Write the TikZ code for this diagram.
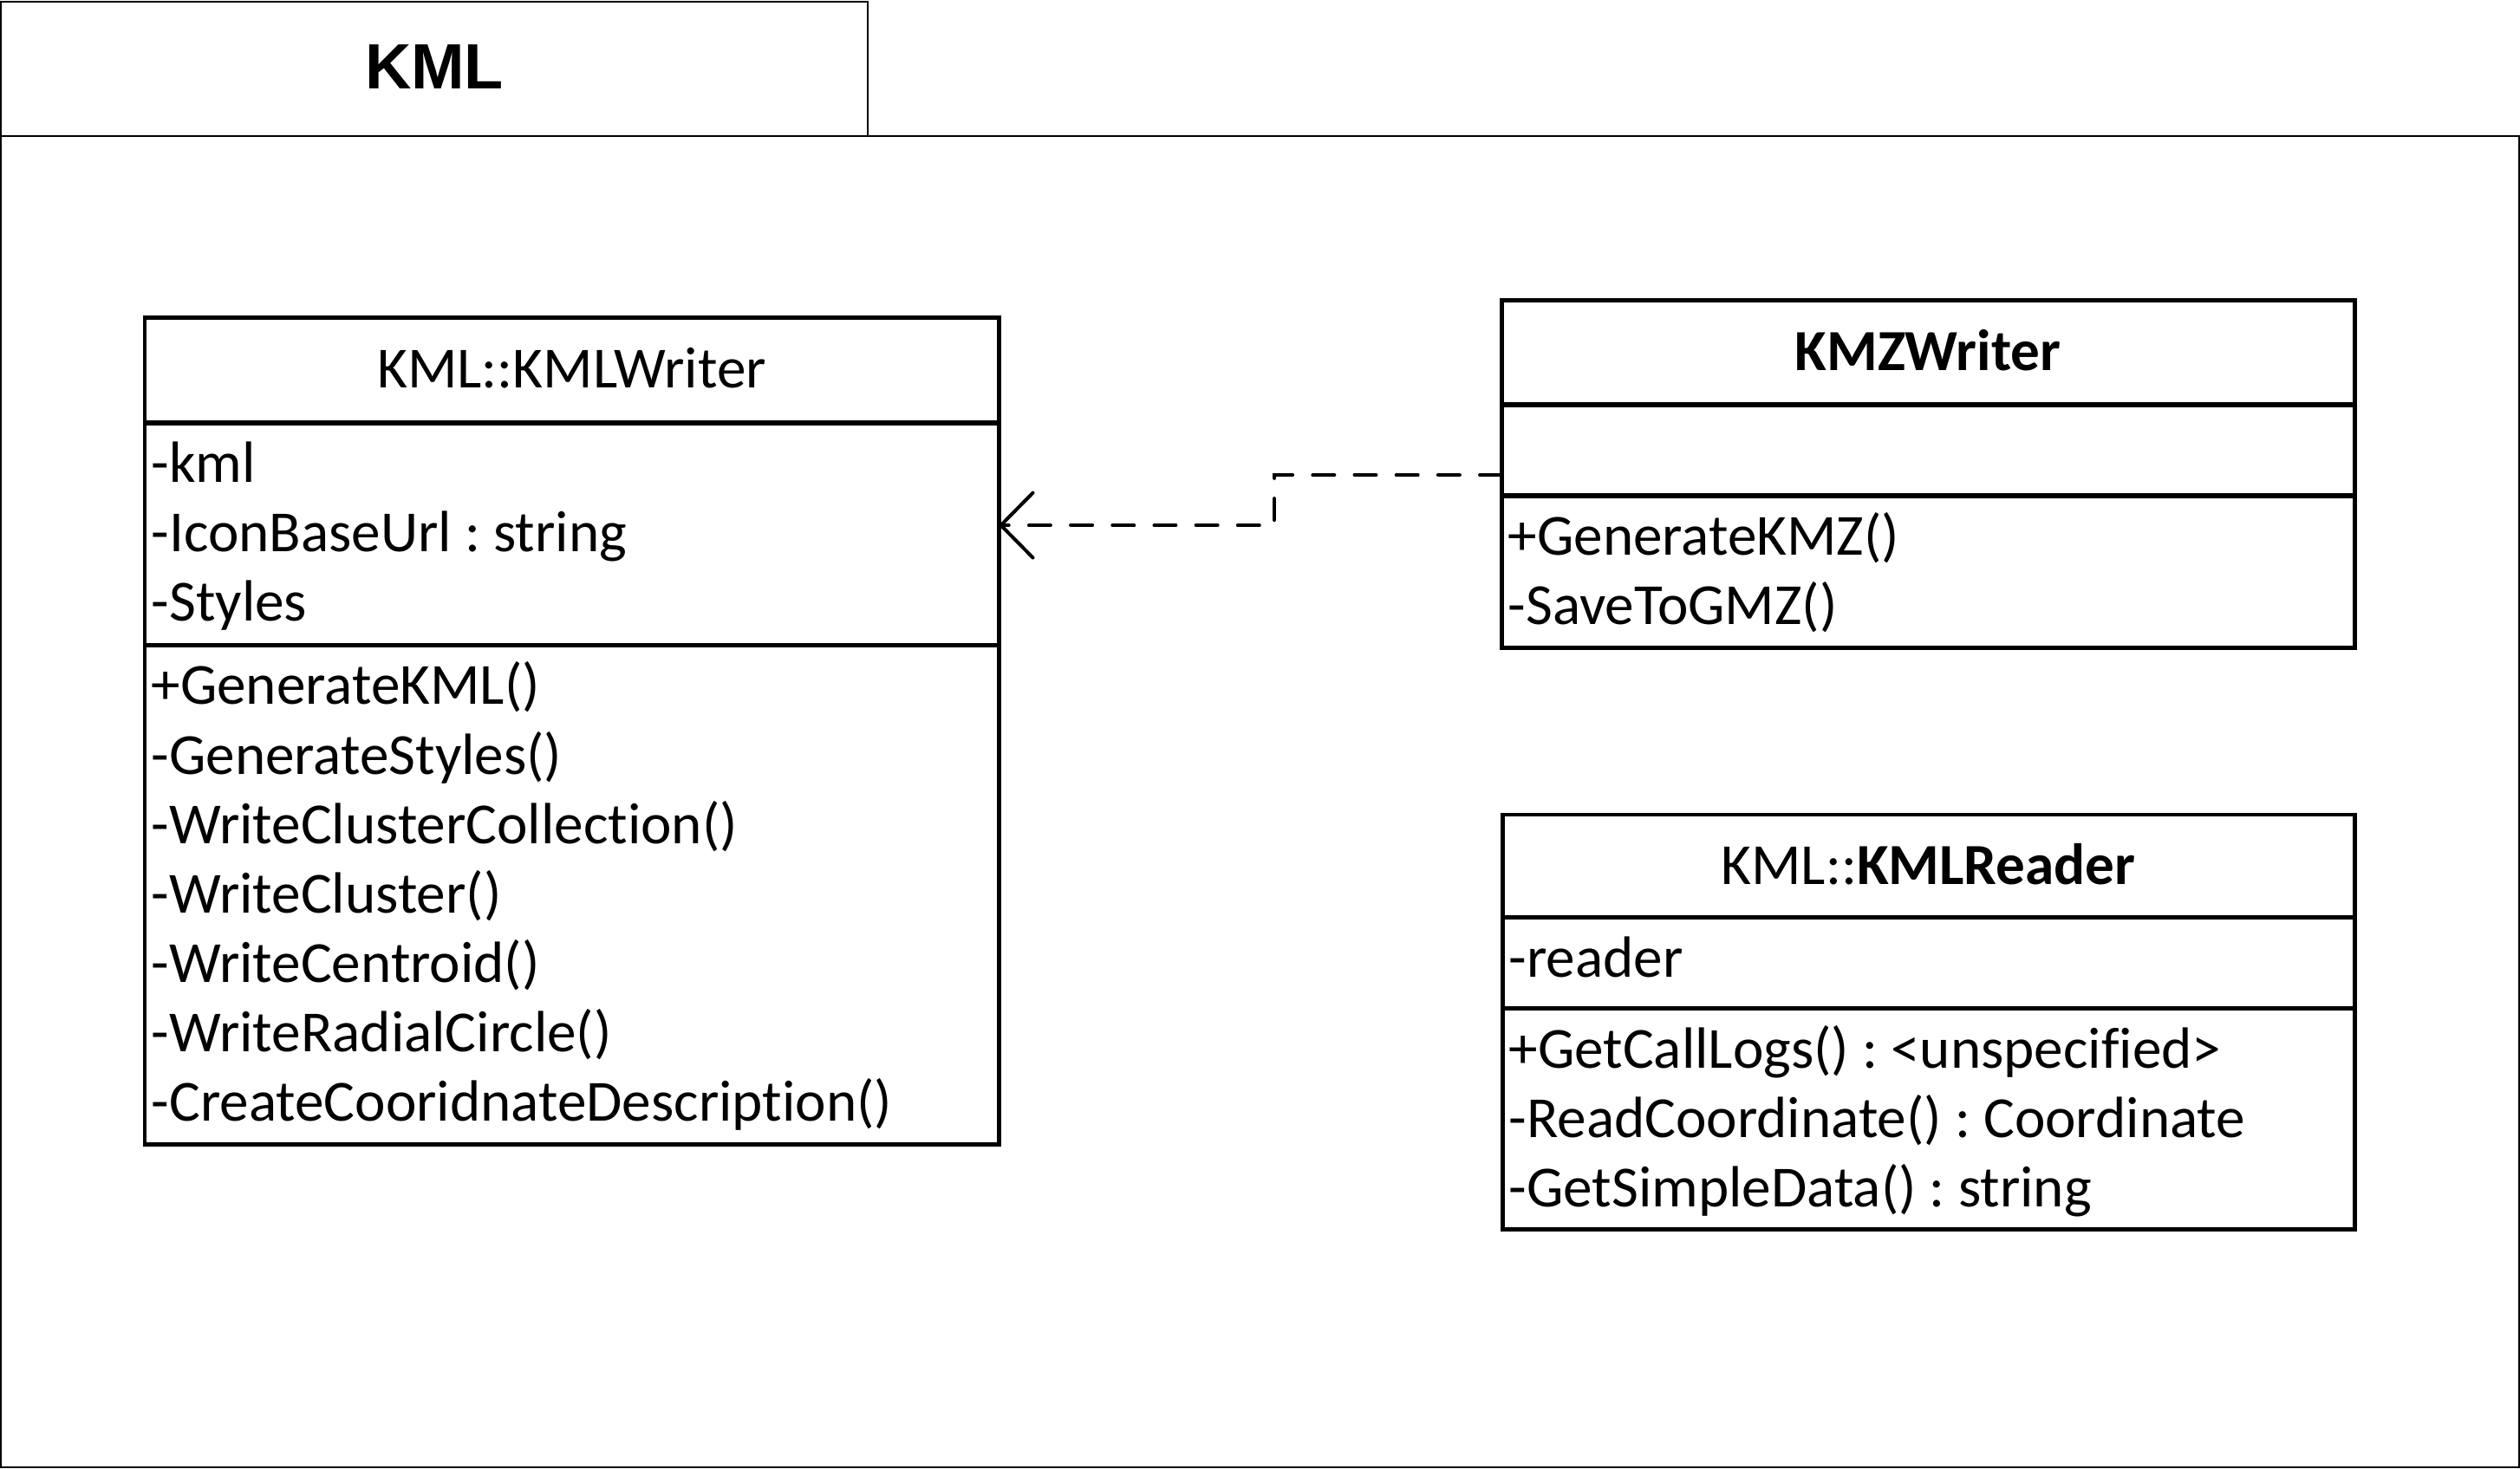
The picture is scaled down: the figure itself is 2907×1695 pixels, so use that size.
\documentclass[tikz,border=0pt]{standalone}
\usepackage{fontspec}
\setmainfont{Carlito}[Ligatures={NoCommon}]
\newfontfamily\pkgtitlefont{Liberation Sans}
\usetikzlibrary{arrows.meta}
\frenchspacing
\newcommand\umlfont{\fontsize{19.1}{22.8}\selectfont\frenchspacing}
\tikzset{
  pkgbox/.style={draw=black, line width=0.6pt, rectangle, inner sep=0pt, outer sep=0pt, anchor=north west},
  clsbox/.style={draw=black, line width=1.42pt, rectangle, inner sep=0pt, outer sep=0pt, anchor=north west},
  member/.style={anchor=base west, inner sep=0pt, font=\umlfont},
  ctitle/.style={anchor=base, inner sep=0pt, font=\umlfont},
  pkgtitle/.style={anchor=base, inner sep=0pt, font=\pkgtitlefont\bfseries\fontsize{21}{25}\selectfont},
  dep/.style={line width=1.14pt, line cap=round, dash pattern=on 7.1pt off 6.6pt,
    -{Straight Barb[length=10.5pt, width=21.3pt, line cap=round, line join=round]}}
}
\begin{document}
\begin{tikzpicture}[x=0.01cm, y=-0.01cm]
\useasboundingbox (0,0) rectangle (2907,1695);
% package
\node[pkgbox, minimum width=9.99cm, minimum height=1.55cm] (tab) at (1,2) {};
\node[pkgbox, minimum width=29.03cm, minimum height=15.35cm] (pkg) at (1,157) {};
\node[pkgtitle] (pkgname) at (501,103) {KML};

% KMLWriter
\node[clsbox, minimum width=9.85cm, minimum height=1.21cm] (kwhead) at (167,367) {};
\node[clsbox, minimum width=9.85cm, minimum height=2.56cm] (kwattr) at (167,488) {};
\node[clsbox, minimum width=9.85cm, minimum height=5.76cm] (kwmeth) at (167,744) {};
\node[ctitle] (kwname) at (659.5,448) {KML::KMLWriter};
\node[member] (kwa1) at (174,557) {-kml};
\node[member] (kwa2) at (174,637) {-IconBaseUrl : string};
\node[member] (kwa3) at (174,717) {-Styles};
\node[member] (kwm1) at (174,813) {+GenerateKML()};
\node[member] (kwm2) at (174,893) {-GenerateStyles()};
\node[member] (kwm3) at (174,973) {-WriteClusterCollection()};
\node[member] (kwm4) at (174,1053) {-WriteCluster()};
\node[member] (kwm5) at (174,1133) {-WriteCentroid()};
\node[member] (kwm6) at (174,1213) {-WriteRadialCircle()};
\node[member] (kwm7) at (174,1293) {-CreateCooridnateDescription()};

% KMZWriter
\node[clsbox, minimum width=9.84cm, minimum height=1.20cm] (kzhead) at (1732,347) {};
\node[clsbox, minimum width=9.84cm, minimum height=1.05cm] (kzattr) at (1732,467) {};
\node[clsbox, minimum width=9.84cm, minimum height=1.75cm] (kzmeth) at (1732,572) {};
\node[ctitle] (kzname) at (2224,428) {\bfseries KMZWriter};
\node[member] (kzm1) at (1739,641) {+GenerateKMZ()};
\node[member] (kzm2) at (1739,721) {-SaveToGMZ()};

% KMLReader
\node[clsbox, minimum width=9.83cm, minimum height=1.18cm] (krhead) at (1733,940) {};
\node[clsbox, minimum width=9.83cm, minimum height=1.05cm] (krattr) at (1733,1058) {};
\node[clsbox, minimum width=9.83cm, minimum height=2.55cm] (krmeth) at (1733,1163) {};
\node[ctitle] (krname) at (2224.5,1020) {KML::\textbf{KMLReader}};
\node[member] (kra1) at (1740,1127) {-reader};
\node[member] (krm1) at (1740,1232) {+GetCallLogs() : <unspecified>};
\node[member] (krm2) at (1740,1312) {-ReadCoordinate() : Coordinate};
\node[member] (krm3) at (1740,1392) {-GetSimpleData() : string};

% dependency
\draw[dep] ([yshift=-0.81cm]kzattr.north west) -- ++(-262,0) |- ([yshift=-1.18cm]kwattr.north east);
\end{tikzpicture}
\end{document}
